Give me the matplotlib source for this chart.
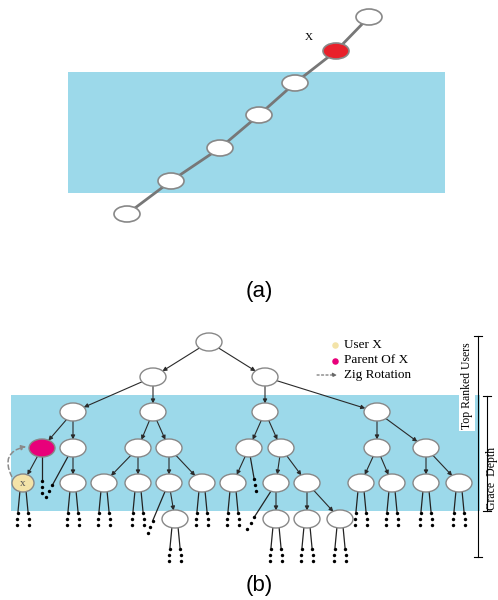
import numpy as np
import matplotlib
matplotlib.use("Agg")
import matplotlib.pyplot as plt
from matplotlib.patches import Ellipse, Rectangle, FancyArrowPatch

# ---- panel (a): chain of nodes (pixel coords) ----
chain_x = [127, 171, 220, 259, 295, 336, 369]
chain_y = [214, 181, 148, 115, 83, 51, 17]
chain_red = 5            # index of node X
band_a = (68, 72, 377, 121)   # x, y, w, h

# ---- panel (b): tree ----
nodes = {
    'r': (209, 342),
    'a': (153, 377), 'b': (265, 377),
    'aa': (73, 412), 'ab': (153, 412), 'ba': (265, 412), 'bb': (377, 412),
    'aaa': (42, 448), 'aab': (73, 448), 'aba': (138, 448), 'abb': (169, 448),
    'baa': (249, 448), 'bab': (281, 448), 'bba': (377, 448), 'bbb': (426, 448),
    'x': (23, 483), 'aab1': (73, 483), 'aba1': (104, 483), 'aba2': (138, 483),
    'abb1': (169, 483), 'abb2': (202, 483), 'baa1': (233, 483),
    'bab1': (276, 483), 'bab2': (307, 483), 'bba1': (361, 483),
    'bba2': (392, 483), 'bbb1': (426, 483), 'bbb2': (459, 483),
    'abb11': (175, 519), 'bab11': (276, 519), 'bab21': (307, 519), 'bab22': (340, 519),
}
edges = [
    ('r', 'a'), ('r', 'b'),
    ('a', 'aa'), ('a', 'ab'), ('b', 'ba'), ('b', 'bb'),
    ('aa', 'aaa'), ('aa', 'aab'), ('ab', 'aba'), ('ab', 'abb'),
    ('ba', 'baa'), ('ba', 'bab'), ('bb', 'bba'), ('bb', 'bbb'),
    ('aaa', 'x'), ('aab', 'aab1'), ('aba', 'aba1'), ('aba', 'aba2'),
    ('abb', 'abb1'), ('abb', 'abb2'), ('baa', 'baa1'),
    ('bab', 'bab1'), ('bab', 'bab2'), ('bba', 'bba1'), ('bba', 'bba2'),
    ('bbb', 'bbb1'), ('bbb', 'bbb2'),
    ('abb1', 'abb11'), ('bab1', 'bab11'), ('bab2', 'bab21'), ('bab2', 'bab22'),
]
leaves = ['x', 'aab1', 'aba1', 'aba2', 'abb2', 'baa1', 'bba1', 'bba2',
          'bbb1', 'bbb2', 'abb11', 'bab11', 'bab21', 'bab22']
# single dotted stubs: node, end point of the line
single_stubs = [('aaa', (42, 480)), ('aab', (53, 484)), ('baa', (254, 478)),
                ('abb1', (153, 520)), ('bab1', (255, 516))]
band_b = (11, 395, 469, 116)

legend_labels = ['User X', 'Parent Of X', 'Zig Rotation']

BLUE = '#9cd9ea'
RED = '#e8202a'
PINK = '#e8007a'
CREAM = '#f3e3a8'
serif = 'Liberation Serif'
sans = 'Liberation Sans'

fig = plt.figure(figsize=(4.98, 6.0), dpi=100)
ax = fig.add_axes([0, 0, 1, 1])
ax.set_xlim(0, 498)
ax.set_ylim(600, 0)
ax.axis('off')

# panel (a)
ax.add_patch(Rectangle(band_a[:2], band_a[2], band_a[3], color=BLUE, lw=0, zorder=0))
ax.plot(chain_x, chain_y, color='#777777', lw=2, zorder=1)
for i, (cx, cy) in enumerate(zip(chain_x, chain_y)):
    fc = RED if i == chain_red else 'white'
    ax.add_patch(Ellipse((cx, cy), 26, 16, fc=fc, ec='#888888', lw=1.2, zorder=2))
ax.text(chain_x[chain_red] - 27, chain_y[chain_red] - 14, 'X', family=serif,
        fontsize=8, ha='center', va='center')
ax.text(259, 292, '(a)', family=sans, fontsize=16, ha='center', va='center')

# panel (b)
NW, NH = 26, 17
ax.add_patch(Rectangle(band_b[:2], band_b[2], band_b[3], color=BLUE, lw=0, zorder=0))


def boundary(c, d, a=NW / 2, b=NH / 2):
    t = 1.0 / np.sqrt((d[0] / a) ** 2 + (d[1] / b) ** 2)
    return (c[0] + t * d[0], c[1] + t * d[1])


for p, c in edges:
    p0, c0 = np.array(nodes[p]), np.array(nodes[c])
    d = c0 - p0
    start = boundary(p0, d)
    end = boundary(c0, -d)
    ax.annotate('', xy=end, xytext=start,
                arrowprops=dict(arrowstyle='-|>', color='#2a2a2a', lw=0.8,
                                mutation_scale=6, shrinkA=0, shrinkB=0), zorder=1)


def stub(x0, y0, x1, y1):
    ax.plot([x0, x1], [y0, y1], color='#222222', lw=0.9, zorder=1)
    dx = (x1 - x0) / max(abs(y1 - y0), 1)
    ys = np.array([y1 + 1, y1 + 7, y1 + 13])
    ax.scatter(x1 + dx * (ys - y1), ys, s=6, color='black', zorder=1, lw=0)


for n in leaves:
    cx, cy = nodes[n]
    for s in (-1, 1):
        stub(cx + 3 * s, cy + NH / 2 - 1, cx + 5 * s, cy + NH / 2 + 20)

for n, (ex, ey) in single_stubs:
    cx, cy = nodes[n]
    stub(cx + (ex - cx) * 0.25, cy + NH / 2, ex, ey)

for n, (cx, cy) in nodes.items():
    fc = 'white'
    w = NW
    if n == 'aaa':
        fc = PINK
    elif n == 'x':
        fc = CREAM
        w = 22
    ax.add_patch(Ellipse((cx, cy), w, NH + 1, fc=fc, ec='#888888', lw=1.0, zorder=2))
ax.text(nodes['x'][0], nodes['x'][1], 'x', family=serif, fontsize=8,
        ha='center', va='center', color='#555555', zorder=3)

# zig rotation arc (from X up to its parent)
xs, ys_ = nodes['x']
rs, rs_y = nodes['aaa']
ax.add_patch(FancyArrowPatch((xs - 10, ys_ - 4), (rs - 13, rs_y - 2),
                             connectionstyle='arc3,rad=-0.7', arrowstyle='-|>',
                             mutation_scale=7, color='#8a8a8a', lw=1.1,
                             linestyle=(0, (3, 2)), zorder=3))

# legend
ax.scatter([335], [345], s=22, color=CREAM, lw=0)
ax.scatter([335], [361], s=22, color=PINK, lw=0)
ax.annotate('', xy=(337, 375), xytext=(317, 375),
            arrowprops=dict(arrowstyle='-|>', color='#666666', lw=0.8,
                            linestyle=(0, (2, 2)), mutation_scale=6,
                            shrinkA=0, shrinkB=0))
for i, lab in enumerate(legend_labels):
    ax.text(344, 345 + 15 * i, lab, family=serif, fontsize=9.5,
            ha='left', va='center')

# brackets
ax.plot([478, 478], [336, 557], color='black', lw=0.8)
for yy in (336, 557):
    ax.plot([474, 482], [yy, yy], color='black', lw=0.8)
ax.plot([487, 487], [396, 511], color='black', lw=0.8)
for yy in (396, 511):
    ax.plot([483, 491], [yy, yy], color='black', lw=0.8)
ax.text(467, 386, 'Top Ranked Users', family=serif, fontsize=8.5, rotation=90,
        ha='center', va='center', zorder=3,
        bbox=dict(fc='white', ec='none', pad=1.5))
ax.text(492.5, 478, 'Grace  Depth', family=serif, fontsize=8.5, rotation=90,
        ha='center', va='center', zorder=3)

ax.text(259, 585, '(b)', family=sans, fontsize=16, ha='center', va='center')

fig.savefig('out.png', dpi=100)
